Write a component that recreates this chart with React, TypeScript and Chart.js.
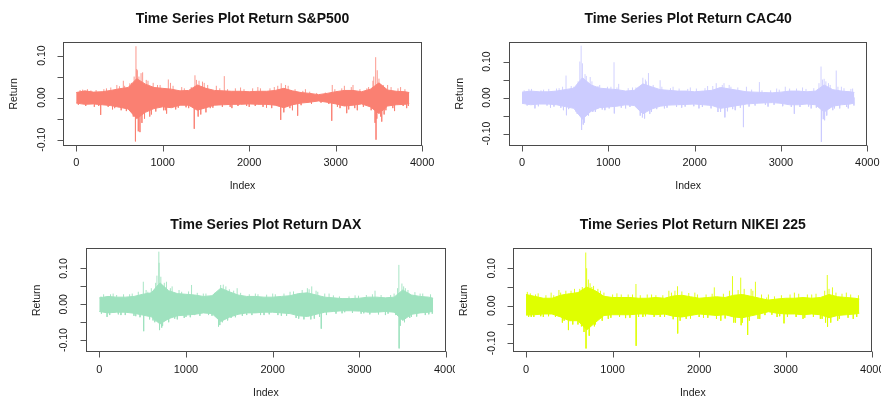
import React, { useEffect, useRef } from "react";
import { Chart, registerables } from "chart.js";

Chart.register(...registerables);

// ---------- data ----------
const BIN_INDEX = [0, 100, 200, 300, 400, 500, 600, 700, 800, 900, 1000, 1100, 1200, 1300, 1400, 1500, 1600, 1700, 1800, 1900, 2000, 2100, 2200, 2300, 2400, 2500, 2600, 2700, 2800, 2900, 3000, 3100, 3200, 3300, 3400, 3500, 3600, 3700, 3800, 3850];

const X_TICKS = [0, 1000, 2000, 3000, 4000];
const X_TICK_LABELS = ["0", "1000", "2000", "3000", "4000"];
const Y_TICKS = [-0.1, -0.05, 0, 0.05, 0.1];
const Y_LABEL_VALUES = [-0.1, 0, 0.1];
const Y_TICK_LABELS = ["-0.10", "0.00", "0.10"];

// S&P500 band envelope (upper / lower), large spikes and small spikes [index, return]
const SP_HI = [0.012, 0.016, 0.013, 0.014, 0.017, 0.021, 0.024, 0.045, 0.032, 0.024, 0.022, 0.02, 0.016, 0.017, 0.03, 0.022, 0.017, 0.016, 0.015, 0.015, 0.014, 0.015, 0.015, 0.017, 0.022, 0.016, 0.012, 0.01, 0.007, 0.01, 0.014, 0.017, 0.017, 0.014, 0.02, 0.035, 0.018, 0.015, 0.014, 0.012];
const SP_LO = [-0.013, -0.016, -0.015, -0.017, -0.019, -0.023, -0.027, -0.05, -0.035, -0.026, -0.022, -0.024, -0.018, -0.018, -0.03, -0.024, -0.018, -0.017, -0.016, -0.016, -0.015, -0.016, -0.016, -0.018, -0.024, -0.017, -0.013, -0.011, -0.008, -0.011, -0.015, -0.02, -0.018, -0.015, -0.022, -0.038, -0.02, -0.017, -0.016, -0.014];
const SP_SPIKES: [number, number][] = [[45, 0.018], [130, 0.02], [210, -0.022], [283, -0.041], [350, 0.022], [420, -0.028], [470, 0.03], [545, 0.04], [580, -0.032], [620, 0.034], [660, -0.045], [685, -0.104], [691, 0.122], [700, 0.068], [707, 0.065], [718, -0.08], [737, -0.082], [750, 0.058], [768, 0.06], [790, -0.05], [830, 0.04], [870, -0.04], [940, 0.03], [1010, -0.03], [1045, -0.038], [1065, 0.043], [1090, 0.035], [1150, -0.028], [1220, 0.025], [1300, -0.025], [1365, -0.074], [1373, 0.053], [1420, 0.04], [1440, -0.04], [1480, 0.035], [1550, -0.025], [1620, 0.028], [1712, 0.051], [1800, -0.025], [1900, 0.024], [2000, -0.022], [2100, 0.025], [2200, -0.024], [2290, 0.025], [2364, -0.053], [2370, 0.034], [2450, 0.028], [2500, -0.03], [2560, -0.043], [2650, 0.02], [2954, -0.055], [2960, 0.03], [3050, -0.025], [3100, 0.028], [3127, -0.037], [3200, 0.03], [3250, -0.03], [3380, 0.025], [3430, 0.04], [3455, -0.06], [3462, 0.096], [3466, -0.1], [3480, 0.065], [3532, -0.057], [3560, -0.04], [3600, 0.03], [3680, -0.032], [3750, 0.025], [3820, -0.025]];
const SP_SMALL: [number, number][] = [[25, -0.017], [75, 0.019], [110, -0.02], [170, 0.017], [230, 0.018], [260, -0.02], [320, 0.02], [370, -0.022], [400, 0.024], [445, -0.025], [500, 0.027], [520, -0.03], [560, 0.028], [640, 0.035], [670, 0.05], [725, 0.05], [760, -0.06], [810, 0.042], [850, -0.045], [890, 0.035], [920, -0.033], [970, 0.03], [1030, -0.03], [1120, 0.028], [1180, -0.024], [1250, 0.022], [1270, -0.023], [1330, 0.025], [1390, 0.042], [1410, -0.045], [1460, 0.038], [1500, -0.035], [1520, 0.03], [1580, -0.024], [1660, 0.022], [1690, -0.022], [1750, 0.02], [1780, -0.022], [1840, 0.022], [1870, -0.02], [1940, 0.02], [1970, -0.02], [2040, 0.022], [2070, -0.02], [2130, 0.022], [2160, -0.022], [2240, 0.022], [2260, -0.025], [2330, 0.028], [2400, -0.035], [2420, 0.03], [2470, -0.025], [2530, 0.02], [2600, -0.018], [2620, 0.016], [2700, 0.014], [2720, -0.015], [2780, 0.011], [2830, -0.012], [2880, 0.012], [2920, -0.015], [2990, 0.02], [3020, -0.022], [3070, 0.022], [3150, -0.028], [3180, 0.025], [3220, -0.025], [3280, 0.02], [3320, -0.022], [3360, 0.022], [3410, -0.03], [3440, 0.05], [3475, -0.05], [3500, 0.045], [3520, -0.045], [3550, 0.03], [3580, -0.03], [3640, 0.025], [3660, -0.025], [3720, 0.022], [3780, -0.02], [3800, 0.02], [3840, -0.02]];

// CAC40
const CAC_HI = [0.015, 0.018, 0.016, 0.016, 0.018, 0.022, 0.026, 0.055, 0.035, 0.026, 0.024, 0.022, 0.018, 0.02, 0.038, 0.03, 0.022, 0.02, 0.018, 0.018, 0.016, 0.018, 0.02, 0.028, 0.024, 0.02, 0.016, 0.015, 0.014, 0.013, 0.015, 0.018, 0.018, 0.016, 0.018, 0.035, 0.022, 0.018, 0.016, 0.014];
const CAC_LO = [-0.016, -0.02, -0.018, -0.018, -0.02, -0.025, -0.03, -0.06, -0.038, -0.028, -0.026, -0.024, -0.02, -0.022, -0.045, -0.032, -0.024, -0.021, -0.02, -0.019, -0.018, -0.02, -0.022, -0.03, -0.026, -0.022, -0.018, -0.016, -0.015, -0.014, -0.016, -0.02, -0.02, -0.018, -0.02, -0.04, -0.024, -0.02, -0.018, -0.015];
const CAC_SPIKES: [number, number][] = [[80, 0.024], [150, -0.03], [250, 0.022], [330, -0.028], [430, 0.026], [480, -0.035], [510, 0.061], [515, -0.049], [600, 0.03], [640, -0.045], [670, 0.1], [685, 0.144], [690, -0.09], [700, 0.095], [720, -0.07], [745, 0.06], [790, 0.057], [820, -0.04], [900, 0.035], [960, -0.035], [1030, 0.03], [1066, 0.098], [1070, -0.044], [1120, 0.038], [1200, -0.03], [1280, 0.028], [1370, -0.05], [1395, -0.055], [1400, 0.055], [1440, 0.045], [1465, 0.068], [1500, -0.04], [1600, 0.048], [1650, -0.03], [1750, 0.03], [1850, -0.028], [1950, 0.028], [2050, -0.03], [2150, 0.032], [2250, 0.04], [2300, -0.04], [2340, 0.04], [2350, -0.055], [2420, 0.03], [2470, -0.035], [2565, -0.082], [2600, 0.03], [2750, 0.043], [2850, -0.025], [2950, 0.025], [3050, 0.03], [3155, -0.045], [3250, 0.028], [3350, -0.03], [3440, 0.04], [3464, 0.086], [3468, -0.123], [3500, 0.052], [3505, -0.063], [3550, 0.04], [3600, -0.035], [3640, 0.075], [3700, 0.03], [3780, -0.03], [3830, 0.025]];
const CAC_SMALL: [number, number][] = [[25, 0.02], [60, -0.022], [110, 0.024], [190, -0.024], [220, 0.02], [290, -0.022], [310, 0.024], [370, -0.025], [400, 0.025], [450, -0.028], [470, 0.03], [540, -0.032], [570, 0.032], [620, -0.038], [650, 0.045], [710, -0.075], [730, 0.065], [770, -0.05], [810, 0.045], [850, -0.04], [880, 0.032], [930, -0.033], [990, 0.03], [1010, -0.03], [1100, 0.028], [1150, -0.028], [1230, 0.026], [1250, -0.026], [1320, 0.028], [1350, -0.03], [1420, -0.058], [1430, 0.05], [1480, -0.045], [1520, 0.035], [1560, -0.032], [1620, 0.03], [1680, -0.028], [1720, 0.026], [1790, -0.026], [1820, 0.025], [1890, -0.025], [1920, 0.024], [1990, -0.024], [2020, 0.025], [2090, -0.026], [2120, 0.026], [2190, -0.03], [2210, 0.032], [2270, -0.04], [2320, 0.035], [2380, -0.038], [2400, 0.035], [2440, -0.032], [2500, 0.028], [2530, -0.028], [2630, -0.025], [2660, 0.022], [2700, -0.022], [2780, 0.02], [2820, -0.02], [2880, 0.02], [2920, -0.02], [2980, 0.022], [3020, -0.024], [3100, 0.025], [3120, -0.026], [3180, 0.025], [3220, -0.026], [3290, 0.024], [3320, -0.025], [3380, 0.026], [3410, -0.028], [3480, 0.05], [3490, -0.06], [3520, 0.045], [3530, -0.05], [3570, 0.035], [3620, -0.03], [3660, 0.03], [3680, -0.03], [3730, 0.026], [3760, -0.026], [3810, 0.024], [3845, -0.022]];

// DAX
const DAX_HI = [0.018, 0.022, 0.02, 0.02, 0.022, 0.028, 0.032, 0.06, 0.038, 0.03, 0.028, 0.026, 0.022, 0.024, 0.045, 0.035, 0.026, 0.022, 0.022, 0.02, 0.02, 0.022, 0.024, 0.03, 0.032, 0.026, 0.02, 0.018, 0.016, 0.016, 0.017, 0.02, 0.02, 0.018, 0.02, 0.04, 0.026, 0.022, 0.02, 0.017];
const DAX_LO = [-0.02, -0.024, -0.022, -0.022, -0.025, -0.03, -0.035, -0.055, -0.04, -0.032, -0.03, -0.028, -0.024, -0.026, -0.048, -0.036, -0.028, -0.024, -0.024, -0.022, -0.022, -0.024, -0.026, -0.032, -0.034, -0.028, -0.022, -0.02, -0.018, -0.018, -0.019, -0.022, -0.022, -0.02, -0.022, -0.045, -0.028, -0.024, -0.022, -0.019];
const DAX_SPIKES: [number, number][] = [[20, 0.022], [90, -0.035], [160, 0.03], [250, -0.03], [350, 0.028], [420, -0.033], [508, 0.063], [512, -0.075], [560, 0.035], [620, -0.045], [665, 0.08], [687, 0.147], [690, 0.116], [695, -0.072], [710, 0.077], [730, -0.06], [775, 0.063], [820, 0.045], [870, -0.04], [950, 0.035], [1000, -0.035], [1064, 0.054], [1100, -0.03], [1200, 0.03], [1300, -0.032], [1375, -0.062], [1400, 0.054], [1420, -0.05], [1460, 0.05], [1520, -0.038], [1590, 0.045], [1700, -0.03], [1800, 0.03], [1900, -0.03], [2000, 0.03], [2100, -0.032], [2200, 0.035], [2300, -0.04], [2400, 0.045], [2440, -0.042], [2450, 0.05], [2520, 0.035], [2560, -0.068], [2650, 0.03], [2800, -0.025], [2950, 0.025], [3050, -0.025], [3180, 0.038], [3300, -0.03], [3400, 0.03], [3455, 0.11], [3458, -0.123], [3490, 0.058], [3495, -0.04], [3530, 0.045], [3600, -0.035], [3700, 0.03], [3800, -0.028]];
const DAX_SMALL: [number, number][] = [[25, -0.026], [50, 0.028], [120, -0.03], [130, 0.028], [200, 0.026], [220, -0.028], [280, 0.028], [300, -0.03], [380, 0.03], [400, -0.032], [450, 0.035], [470, -0.036], [540, 0.04], [580, -0.042], [600, 0.045], [640, -0.05], [650, 0.06], [720, -0.065], [750, 0.06], [800, -0.05], [840, 0.05], [900, -0.042], [920, 0.04], [980, -0.038], [1030, 0.036], [1050, -0.036], [1130, 0.032], [1160, -0.032], [1230, 0.03], [1260, -0.03], [1330, 0.032], [1350, -0.034], [1390, -0.058], [1430, 0.055], [1480, -0.045], [1500, 0.042], [1550, 0.038], [1570, -0.036], [1630, 0.032], [1650, -0.032], [1730, 0.028], [1760, -0.03], [1830, 0.028], [1860, -0.03], [1930, 0.027], [1960, -0.028], [2030, 0.028], [2060, -0.03], [2130, 0.03], [2160, -0.032], [2240, 0.036], [2270, -0.038], [2340, 0.04], [2360, -0.042], [2420, 0.042], [2480, -0.04], [2500, 0.038], [2540, -0.035], [2600, 0.03], [2620, -0.03], [2700, 0.025], [2730, -0.026], [2770, 0.022], [2830, -0.022], [2880, 0.022], [2920, -0.024], [2990, 0.024], [3020, -0.026], [3080, 0.026], [3120, -0.028], [3150, 0.028], [3220, -0.028], [3250, 0.026], [3330, -0.026], [3360, 0.026], [3420, -0.03], [3440, 0.045], [3470, -0.06], [3510, 0.05], [3520, -0.05], [3560, 0.04], [3580, -0.038], [3640, 0.034], [3660, -0.034], [3730, 0.03], [3760, -0.03], [3820, 0.028], [3840, -0.026]];

// NIKEI 225
const NK_HI = [0.03, 0.025, 0.02, 0.02, 0.028, 0.032, 0.035, 0.05, 0.04, 0.025, 0.022, 0.022, 0.022, 0.02, 0.02, 0.022, 0.02, 0.026, 0.028, 0.024, 0.02, 0.022, 0.024, 0.022, 0.028, 0.03, 0.025, 0.02, 0.015, 0.018, 0.02, 0.02, 0.022, 0.02, 0.022, 0.03, 0.024, 0.022, 0.02, 0.018];
const NK_LO = [-0.025, -0.024, -0.022, -0.022, -0.03, -0.04, -0.04, -0.065, -0.045, -0.026, -0.024, -0.024, -0.024, -0.022, -0.022, -0.024, -0.022, -0.028, -0.03, -0.026, -0.022, -0.024, -0.026, -0.024, -0.03, -0.032, -0.027, -0.022, -0.016, -0.02, -0.022, -0.022, -0.024, -0.022, -0.024, -0.032, -0.026, -0.024, -0.022, -0.02];
const NK_SPIKES: [number, number][] = [[15, 0.037], [60, -0.03], [140, 0.033], [200, -0.03], [290, 0.035], [380, 0.042], [420, -0.045], [490, -0.065], [520, 0.04], [600, -0.05], [650, 0.05], [690, 0.142], [693, -0.114], [700, 0.1], [710, -0.06], [740, 0.06], [780, 0.053], [800, -0.05], [860, 0.04], [950, -0.035], [1050, 0.033], [1150, -0.033], [1270, 0.058], [1272, -0.107], [1350, -0.03], [1450, 0.03], [1550, -0.03], [1650, 0.04], [1750, 0.052], [1752, -0.074], [1850, -0.035], [1950, 0.035], [2050, -0.032], [2175, 0.049], [2250, -0.04], [2385, 0.079], [2420, -0.045], [2480, 0.075], [2485, -0.052], [2560, -0.078], [2600, 0.045], [2650, 0.064], [2700, -0.035], [2800, 0.03], [2900, -0.03], [2980, -0.047], [3100, 0.035], [3200, -0.035], [3300, 0.03], [3400, -0.035], [3480, 0.082], [3483, -0.056], [3540, 0.049], [3600, -0.04], [3700, 0.035], [3780, -0.035]];
const NK_SMALL: [number, number][] = [[30, -0.03], [50, 0.033], [90, -0.03], [110, 0.03], [170, -0.028], [230, 0.028], [260, -0.028], [320, 0.028], [340, -0.03], [400, 0.035], [440, -0.04], [460, 0.04], [540, -0.05], [560, 0.045], [620, 0.045], [640, -0.055], [670, -0.07], [720, 0.07], [730, -0.08], [760, 0.05], [790, -0.055], [830, 0.045], [880, -0.04], [900, 0.035], [980, -0.032], [1000, 0.03], [1080, -0.03], [1100, 0.03], [1180, 0.03], [1200, -0.032], [1230, 0.03], [1300, -0.03], [1320, 0.028], [1380, -0.028], [1400, 0.03], [1480, -0.03], [1500, 0.028], [1580, 0.028], [1600, -0.03], [1680, 0.035], [1700, -0.036], [1720, 0.04], [1780, -0.04], [1800, 0.038], [1880, 0.034], [1900, -0.034], [1980, 0.03], [2000, -0.03], [2080, 0.03], [2100, -0.032], [2150, 0.032], [2200, -0.035], [2280, 0.032], [2300, -0.034], [2350, 0.04], [2400, -0.045], [2450, 0.042], [2500, -0.045], [2520, 0.045], [2580, -0.04], [2620, 0.04], [2680, -0.035], [2720, 0.03], [2760, -0.025], [2780, 0.022], [2840, -0.024], [2870, 0.025], [2930, -0.028], [2950, 0.028], [3020, -0.03], [3050, 0.03], [3120, -0.03], [3150, 0.032], [3220, -0.032], [3250, 0.03], [3320, -0.03], [3350, 0.032], [3420, -0.035], [3450, 0.04], [3460, -0.045], [3500, 0.045], [3520, -0.045], [3580, 0.035], [3620, -0.035], [3650, 0.032], [3720, -0.032], [3750, 0.03], [3820, -0.03], [3840, 0.028]];

// ---------- panels ----------
type PanelDef = {
  title: string;
  color: string;
  spikeColor: string;
  hi: number[];
  lo: number[];
  spikes: [number, number][];
  small: [number, number][];
  rect: [number, number, number, number]; // canvas x, y, w, h (page)
  area: [number, number, number, number]; // plot box l, t, r, b (page)
  xRange: [number, number];
  yRange: [number, number];
};

const PANELS: PanelDef[] = [
  {
    title: "Time Series Plot Return S&P500",
    color: "#FA8072",
    spikeColor: "rgba(250,128,114,0.8)",
    hi: SP_HI, lo: SP_LO, spikes: SP_SPIKES, small: SP_SMALL,
    rect: [0, 0, 440, 200],
    area: [63.3, 41.7, 421.7, 146],
    xRange: [-149, 3994],
    yRange: [-0.115, 0.1328],
  },
  {
    title: "Time Series Plot Return CAC40",
    color: "#CCCCFF",
    spikeColor: "rgba(204,204,255,0.9)",
    hi: CAC_HI, lo: CAC_LO, spikes: CAC_SPIKES, small: CAC_SMALL,
    rect: [440, 0, 441, 200],
    area: [509, 41.7, 867.3, 145.7],
    xRange: [-150.6, 4000],
    yRange: [-0.1336, 0.155],
  },
  {
    title: "Time Series Plot Return DAX",
    color: "#9FE2BF",
    spikeColor: "rgba(159,226,191,0.9)",
    hi: DAX_HI, lo: DAX_LO, spikes: DAX_SPIKES, small: DAX_SMALL,
    rect: [0, 200, 455, 198],
    area: [86, 248.3, 445.7, 352.3],
    xRange: [-153, 3995],
    yRange: [-0.134, 0.1564],
  },
  {
    title: "Time Series Plot Return NIKEI 225",
    color: "#DFFF00",
    spikeColor: "rgba(223,255,0,0.9)",
    hi: NK_HI, lo: NK_LO, spikes: NK_SPIKES, small: NK_SMALL,
    rect: [455, 200, 426, 198],
    area: [513.3, 248.3, 872.3, 352.3],
    xRange: [-147, 4000],
    yRange: [-0.1243, 0.1533],
  },
];

const FONT = "'Liberation Sans', Arial, Helvetica, sans-serif";

function framePlugin(title: string) {
  return {
    id: "rFrame",
    afterDraw(chart: any) {
      const { ctx, chartArea: a } = chart;
      const xs = chart.scales.x;
      const ys = chart.scales.y;
      ctx.save();
      ctx.strokeStyle = "#4a4a4a";
      ctx.lineWidth = 1;
      const l = Math.round(a.left) + 0.5;
      const t = Math.round(a.top) + 0.5;
      const r = Math.round(a.right) - 0.5;
      const b = Math.round(a.bottom) - 0.5;
      ctx.strokeRect(l, t, r - l, b - t);
      ctx.strokeStyle = "#555";
      ctx.fillStyle = "#1a1a1a";
      ctx.font = `11px ${FONT}`;
      ctx.textAlign = "center";
      ctx.textBaseline = "middle";
      X_TICKS.forEach((v, i) => {
        const px = Math.round(xs.getPixelForValue(v)) + 0.5;
        ctx.beginPath();
        ctx.moveTo(px, b);
        ctx.lineTo(px, b + 6);
        ctx.stroke();
        ctx.fillText(X_TICK_LABELS[i], xs.getPixelForValue(v), a.bottom + 17.3);
      });
      Y_TICKS.forEach((v) => {
        const py = Math.round(ys.getPixelForValue(v)) + 0.5;
        ctx.beginPath();
        ctx.moveTo(l - 6, py);
        ctx.lineTo(l, py);
        ctx.stroke();
      });
      ctx.font = `10.5px ${FONT}`;
      Y_LABEL_VALUES.forEach((v, i) => {
        const py = ys.getPixelForValue(v);
        ctx.save();
        ctx.translate(a.left - 21.5, py);
        ctx.rotate(-Math.PI / 2);
        ctx.fillText(Y_TICK_LABELS[i], 0, 0);
        ctx.restore();
      });
      ctx.font = `10.5px ${FONT}`;
      ctx.fillText("Index", (a.left + a.right) / 2, a.bottom + 40.5);
      ctx.save();
      ctx.translate(a.left - 49, (a.top + a.bottom) / 2);
      ctx.rotate(-Math.PI / 2);
      ctx.fillText("Return", 0, 0);
      ctx.restore();
      ctx.font = `bold 14px ${FONT}`;
      ctx.fillStyle = "#111";
      ctx.fillText(title, (a.left + a.right) / 2, a.top - 23);
      ctx.restore();
    },
  };
}

function spikeLines(list: [number, number][]) {
  const out: { x: number; y: number | null }[] = [];
  list.forEach(([ix, v]) => {
    out.push({ x: ix, y: 0 }, { x: ix, y: v }, { x: ix, y: null });
  });
  return out;
}

function PanelChart({ p }: { p: PanelDef }) {
  const ref = useRef<HTMLCanvasElement>(null);
  const [x, y, w, h] = p.rect;
  useEffect(() => {
    if (!ref.current) return;
    const [l, t, r, b] = p.area;
    const hiData = BIN_INDEX.map((ix, i) => ({ x: ix, y: p.hi[i] }));
    const loData = BIN_INDEX.map((ix, i) => ({ x: ix, y: p.lo[i] }));
    const chart = new Chart(ref.current, {
      type: "line",
      data: {
        datasets: [
          {
            data: hiData,
            borderColor: p.color,
            backgroundColor: p.color,
            borderWidth: 1,
            pointRadius: 0,
            tension: 0,
            fill: "+1",
          },
          {
            data: loData,
            borderColor: p.color,
            backgroundColor: p.color,
            borderWidth: 1,
            pointRadius: 0,
            tension: 0,
            fill: false,
          },
          {
            data: spikeLines(p.small) as any,
            borderColor: p.spikeColor,
            borderWidth: 1,
            pointRadius: 0,
            spanGaps: false,
            fill: false,
          },
          {
            data: spikeLines(p.spikes) as any,
            borderColor: p.spikeColor,
            borderWidth: 1,
            pointRadius: 0,
            spanGaps: false,
            fill: false,
          },
        ],
      },
      options: {
        responsive: false,
        animation: false,
        events: [],
        layout: {
          padding: { left: l - x, top: t - y, right: x + w - r, bottom: y + h - b },
        },
        scales: {
          x: { type: "linear", display: false, min: p.xRange[0], max: p.xRange[1] },
          y: { type: "linear", display: false, min: p.yRange[0], max: p.yRange[1] },
        },
        plugins: {
          legend: { display: false },
          tooltip: { enabled: false },
        },
      },
      plugins: [framePlugin(p.title)],
    });
    return () => chart.destroy();
  }, []);
  return (
    <canvas
      ref={ref}
      width={w}
      height={h}
      style={{ position: "absolute", left: x, top: y, width: w, height: h, display: "block" }}
    />
  );
}

export default function App() {
  return (
    <div style={{ position: "fixed", left: 0, top: 0, width: 881, height: 398, background: "#fff", overflow: "hidden" }}>
      {PANELS.map((p) => (
        <PanelChart key={p.title} p={p} />
      ))}
    </div>
  );
}
